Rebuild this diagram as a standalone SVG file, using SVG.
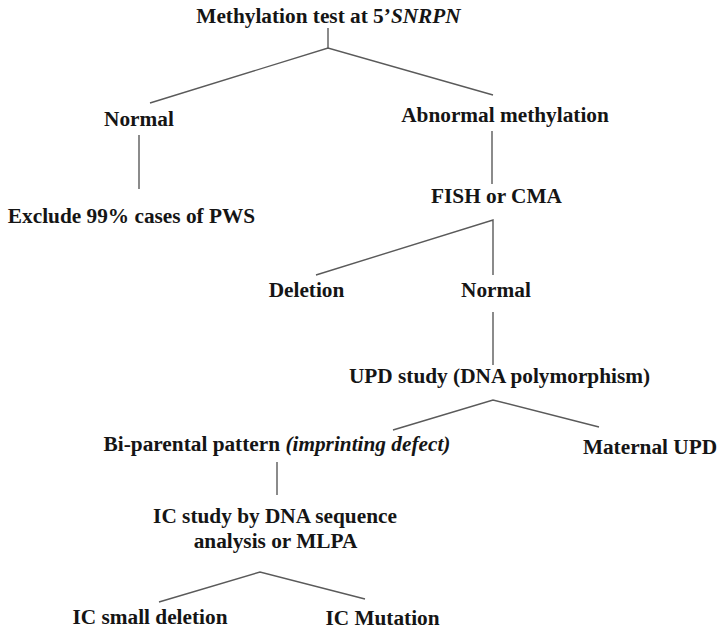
<svg xmlns="http://www.w3.org/2000/svg" width="723" height="633" viewBox="0 0 723 633">
<style>
text{font-family:"Liberation Serif","Times New Roman",serif;font-weight:bold;font-size:21.3px;fill:#151515;text-anchor:middle}
.it{font-style:italic}
#connectors line,#connectors polyline{stroke:#5a5a5a;stroke-width:1.4;fill:none}
</style>
<rect width="723" height="633" fill="#ffffff"/>
<g id="connectors">
<line x1="328" y1="28" x2="328" y2="48"/>
<polyline points="150,103 328,48 493,95"/>
<line x1="139" y1="135" x2="139" y2="189"/>
<line x1="492" y1="131" x2="492" y2="184"/>
<polyline points="316,275 493,220 493,275"/>
<line x1="493" y1="312" x2="493" y2="365"/>
<polyline points="393,430 493,400 599,427"/>
<line x1="277" y1="462" x2="277" y2="495"/>
<polyline points="159,602 260,572 365,599"/>
</g>
<g id="n-root"><text x="328.5" y="23">Methylation test at 5’<tspan class="it">SNRPN</tspan></text></g>
<g id="n-normal1"><text x="139" y="126">Normal</text></g>
<g id="n-abnormal"><text x="505" y="122">Abnormal methylation</text></g>
<g id="n-exclude"><text x="131.5" y="223">Exclude 99% cases of PWS</text></g>
<g id="n-fish"><text x="496.5" y="203">FISH or CMA</text></g>
<g id="n-deletion"><text x="306.5" y="297">Deletion</text></g>
<g id="n-normal2"><text x="496" y="297">Normal</text></g>
<g id="n-upd"><text x="499.5" y="383">UPD study (DNA polymorphism)</text></g>
<g id="n-biparental"><text x="277" y="451">Bi-parental pattern <tspan class="it">(imprinting defect)</tspan></text></g>
<g id="n-maternal"><text x="650" y="454">Maternal UPD</text></g>
<g id="n-ic"><text x="275" y="523">IC study by DNA sequence</text><text x="275.5" y="548">analysis or MLPA</text></g>
<g id="n-icdel"><text x="150" y="624">IC small deletion</text></g>
<g id="n-icmut"><text x="382.5" y="625">IC Mutation</text></g>
</svg>
